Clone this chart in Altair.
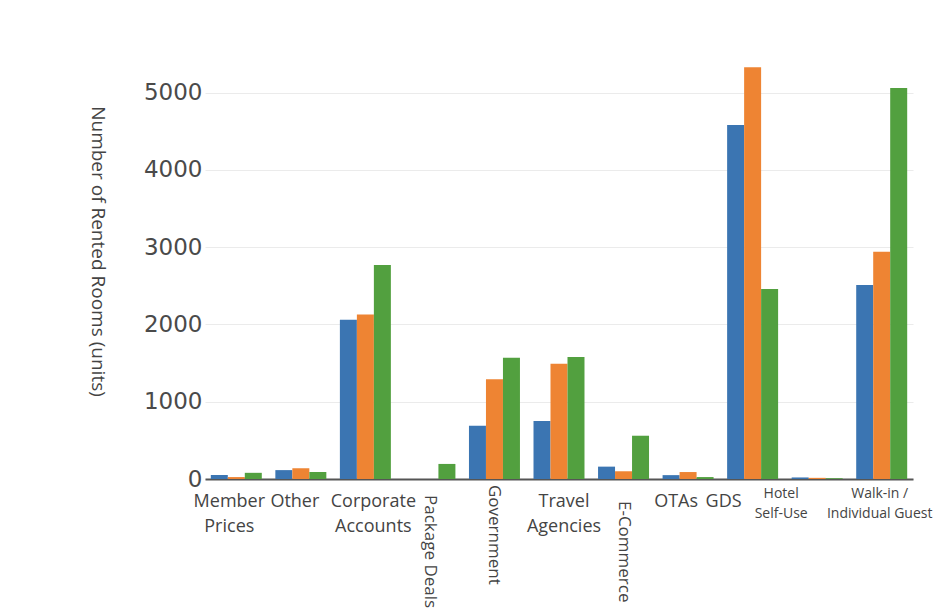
import altair as alt
import pandas as pd

categories = ["Member Prices", "Other", "Corporate Accounts", "Package Deals",
              "Government", "Travel Agencies", "E-Commerce", "OTAs", "GDS",
              "Hotel Self-Use", "Walk-in / Individual Guest"]
labels = ["Member\nPrices", "Other", "Corporate\nAccounts", "Package Deals",
          "Government", "Travel\nAgencies", "E-Commerce", "OTAs", "GDS",
          "Hotel\nSelf-Use", "Walk-in /\nIndividual Guest"]
series = ["Series 1", "Series 2", "Series 3"]
values_1 = [52, 115, 2060, 0, 690, 750, 160, 50, 4580, 20, 2510]
values_2 = [25, 140, 2130, 0, 1290, 1490, 100, 90, 5330, 15, 2940]
values_3 = [80, 90, 2770, 195, 1570, 1580, 560, 25, 2460, 10, 5060]
y_ticks = [0, 1000, 2000, 3000, 4000, 5000]

colors = ["#3b75b2", "#ee8433", "#52a03f"]

rows = []
for s, vals in zip(series, [values_1, values_2, values_3]):
    for c, v in zip(categories, vals):
        rows.append({"category": c, "series": s, "value": v})
df = pd.DataFrame(rows)

lab = pd.DataFrame({"category": categories, "label": labels})

# label styling (kept in code, not in the data arrays)
vertical = {"Package Deals", "Government", "E-Commerce"}
small = {"Hotel Self-Use", "Walk-in / Individual Guest"}
label_dx = {"Member Prices": -7, "Other": -6, "Corporate Accounts": 8,
            "Package Deals": 10, "Government": 0, "Travel Agencies": 5,
            "E-Commerce": 16, "OTAs": -12, "GDS": -29,
            "Hotel Self-Use": -36, "Walk-in / Individual Guest": -2}

W, H = 708, 425
xscale = alt.Scale(domain=categories, paddingInner=0.21, paddingOuter=0.09)

bars = alt.Chart(df).mark_bar().encode(
    x=alt.X("category:N", sort=categories, scale=xscale,
            axis=alt.Axis(labels=False, ticks=False, title=None,
                          domainColor="#555555", domainWidth=2, grid=False)),
    xOffset=alt.XOffset("series:N", sort=series, scale=alt.Scale(paddingInner=0)),
    y=alt.Y("value:Q", scale=alt.Scale(domain=[0, 5500], nice=False),
            axis=alt.Axis(values=y_ticks, format="d", domain=False, ticks=False,
                          labelFont="DejaVu Sans", labelFontSize=23,
                          labelColor="#4a4a4a", labelPadding=3,
                          gridColor="#ebebeb",
                          title="Number of Rented Rooms (units)",
                          titleFont="Open Sans", titleFontSize=19,
                          titleFontWeight="normal", titleColor="#444444",
                          titleAngle=90, titleX=-108, titleY=197,
                          titleAlign="center", titleBaseline="middle")),
    color=alt.Color("series:N", sort=series,
                    scale=alt.Scale(domain=series, range=colors), legend=None),
)

layers = [bars]
for cat in categories:
    base = alt.Chart(lab).transform_filter(alt.datum.category == cat)
    enc = dict(x=alt.X("category:N", sort=categories, scale=xscale),
               text="label:N")
    if cat in vertical:
        mk = base.mark_text(font="Open Sans", fontSize=17, color="#444444",
                            align="left", baseline="middle", angle=90,
                            dx=label_dx[cat])
        enc["y"] = alt.value(H + 6)
    elif cat in small:
        mk = base.mark_text(font="Open Sans", fontSize=14, color="#444444",
                            align="center", baseline="top", lineBreak="\n",
                            lineHeight=20, dx=label_dx[cat])
        enc["y"] = alt.value(H + 8)
    else:
        mk = base.mark_text(font="Open Sans", fontSize=18, color="#444444",
                            align="center", baseline="top", lineBreak="\n",
                            lineHeight=25, dx=label_dx[cat])
        enc["y"] = alt.value(H + 14)
    layers.append(mk.encode(**enc))

chart = alt.layer(*layers).properties(
    width=W, height=H,
    autosize=alt.AutoSizeParams(type="none"),
    padding={"left": 205, "top": 54, "right": 25, "bottom": 133},
    background="white",
).configure_view(stroke=None)

chart.save("out.html", embed_options={"renderer": "svg", "actions": False})
